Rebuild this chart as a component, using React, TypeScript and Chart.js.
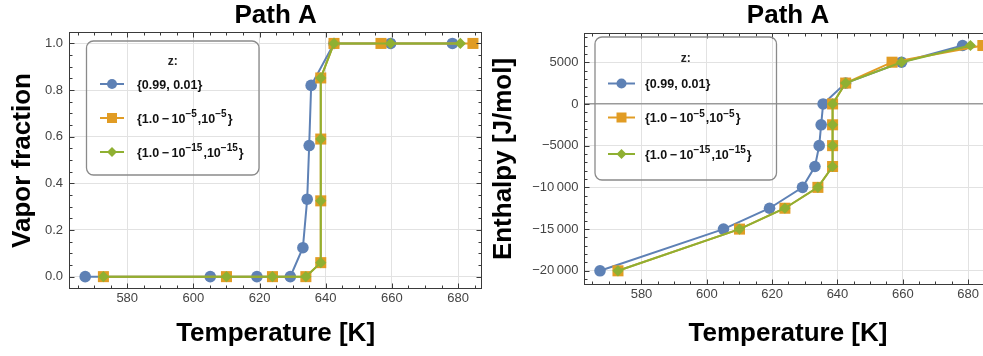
import React, { useEffect, useRef } from 'react';
import { Chart, registerables } from 'chart.js';
Chart.register(...registerables);

const FONT = '"Liberation Sans", Arial, Helvetica, sans-serif';

// ---- tick labels ----
const tempTicks = [580, 600, 620, 640, 660, 680];
const vaporTicks = [0, 0.2, 0.4, 0.6, 0.8, 1.0];
const enthalpyTicks = [-20000, -15000, -10000, -5000, 0, 5000];

// ---- series: z = {0.99, 0.01} ----
const tempA = [567.3, 605.1, 619.2, 629.3, 633.1, 634.4, 635.0, 635.6, 642.5, 659.6, 678.3];
const vaporA = [0, 0, 0, 0, 0.124, 0.332, 0.562, 0.82, 1, 1, 1];
const enthalpyA = [-20000, -15000, -12500, -10000, -7500, -5000, -2500, 0, 2500, 5000, 7000];

// ---- series: z = {1.0-1e-5, 1e-5} ----
const tempB = [572.8, 610.0, 623.9, 634.0, 638.5, 638.5, 638.5, 638.5, 642.5, 656.7, 684.5];
const vaporB = [0, 0, 0, 0, 0.06, 0.325, 0.59, 0.852, 1, 1, 1];
const enthalpyB = [-20000, -15000, -12500, -10000, -7500, -5000, -2500, 0, 2500, 5000, 7000];

// ---- series: z = {1.0-1e-15, 1e-15} ----
const tempC = [572.8, 610.0, 623.9, 634.0, 638.5, 638.5, 638.5, 638.5, 642.5, 659.6, 680.7];
const vaporC = [0, 0, 0, 0, 0.06, 0.325, 0.59, 0.852, 1, 1, 1];
const enthalpyC = [-20000, -15000, -12500, -10000, -7500, -5000, -2500, 0, 2500, 5000, 7000];

const seriesColors = ['#5E81B5', '#E19C24', '#8FB032'];
const seriesMarkers = ['circle', 'rect', 'rectRot'];
const legendTitle = 'z:';
const legendLabels = [
  [{ t: '{0.99, 0.01}' }],
  [{ t: '{1.0\u2009\u2212\u200910' }, { t: '\u22125', sup: true }, { t: ',10' }, { t: '\u22125', sup: true }, { t: '}' }],
  [{ t: '{1.0\u2009\u2212\u200910' }, { t: '\u221215', sup: true }, { t: ',10' }, { t: '\u221215', sup: true }, { t: '}' }],
];

function fmtEnthalpy(v: number): string {
  const a = Math.abs(v);
  let s = String(a);
  if (a >= 10000) s = s.slice(0, s.length - 3) + '\u2009' + s.slice(s.length - 3);
  return (v < 0 ? '\u2212' : '') + s;
}

function drawMarker(ctx: CanvasRenderingContext2D, kind: string, x: number, y: number, r: number, color: string) {
  ctx.fillStyle = color;
  ctx.beginPath();
  if (kind === 'circle') {
    ctx.arc(x, y, r, 0, Math.PI * 2);
  } else if (kind === 'rect') {
    ctx.rect(x - r, y - r, 2 * r, 2 * r);
  } else {
    ctx.moveTo(x, y - r);
    ctx.lineTo(x + r, y);
    ctx.lineTo(x, y + r);
    ctx.lineTo(x - r, y);
    ctx.closePath();
  }
  ctx.fill();
}

const decoPlugin = {
  id: 'deco',
  afterDatasetsDraw(chart: any, _args: any, o: any) {
    const { ctx, chartArea: a, scales } = chart;
    const xs = scales.x;
    const ys = scales.y;
    ctx.save();
    // frame
    const L = Math.round(a.left) + 0.5;
    const R = Math.round(a.right) - 0.5;
    const T = Math.round(a.top) + 0.5;
    const B = Math.round(a.bottom) - 0.5;
    ctx.strokeStyle = '#3a3a3a';
    ctx.lineWidth = 1;
    ctx.strokeRect(L, T, R - L, B - T);
    // ticks
    const tick = (x1: number, y1: number, x2: number, y2: number) => {
      ctx.beginPath();
      ctx.moveTo(x1, y1);
      ctx.lineTo(x2, y2);
      ctx.stroke();
    };
    const vals = (min: number, max: number, step: number) => {
      const out: number[] = [];
      for (let v = Math.ceil(min / step - 1e-9) * step; v <= max + 1e-9; v += step) out.push(+v.toFixed(6));
      return out;
    };
    const isMajor = (v: number, majors: number[]) => majors.some((m) => Math.abs(m - v) < 1e-6);
    for (const v of vals(xs.min, xs.max, o.xMinor)) {
      const len = isMajor(v, o.xMajor) ? 5 : 3;
      const px = Math.round(xs.getPixelForValue(v)) + 0.5;
      tick(px, B, px, B - len);
      tick(px, T, px, T + len);
    }
    for (const v of vals(ys.min, ys.max, o.yMinor)) {
      const len = isMajor(v, o.yMajor) ? 5 : 3;
      const py = Math.round(ys.getPixelForValue(v)) + 0.5;
      tick(L, py, L + len, py);
      tick(R, py, R - len, py);
    }
    // titles
    ctx.fillStyle = '#000';
    ctx.font = `bold 26px ${FONT}`;
    ctx.textAlign = 'center';
    ctx.textBaseline = 'alphabetic';
    const cx = (a.left + a.right) / 2;
    ctx.fillText(o.title, cx, 23);
    ctx.fillText(o.xTitle, cx, 341);
    ctx.save();
    ctx.translate(o.yTitleX, (a.top + a.bottom) / 2);
    ctx.rotate(-Math.PI / 2);
    ctx.fillText(o.yTitle, 0, 0);
    ctx.restore();
    // legend
    const lg = o.legend;
    ctx.strokeStyle = '#8a8a8a';
    ctx.lineWidth = 1.3;
    ctx.beginPath();
    (ctx as any).roundRect(lg.x1, lg.y1, lg.x2 - lg.x1, lg.y2 - lg.y1, 7);
    ctx.stroke();
    ctx.fillStyle = '#222';
    ctx.font = `bold 12px ${FONT}`;
    ctx.textAlign = 'center';
    ctx.textBaseline = 'middle';
    ctx.fillText(legendTitle, (lg.x1 + lg.x2) / 2, lg.titleY);
    legendLabels.forEach((parts, i) => {
      const y = lg.rows[i];
      ctx.strokeStyle = seriesColors[i];
      ctx.lineWidth = 2;
      tick(lg.lx1, y, lg.lx2, y);
      drawMarker(ctx, seriesMarkers[i], (lg.lx1 + lg.lx2) / 2, y, 5, seriesColors[i]);
      let x = lg.tx;
      ctx.textAlign = 'left';
      ctx.textBaseline = 'alphabetic';
      ctx.fillStyle = '#111';
      for (const p of parts as any[]) {
        ctx.font = p.sup ? `bold 10px ${FONT}` : `bold 12.5px ${FONT}`;
        ctx.fillText(p.t, x, p.sup ? y - 1 : y + 4.5);
        x += ctx.measureText(p.t).width + (p.sup ? 1 : 0);
      }
    });
    ctx.restore();
  },
};

function makeDatasets(ys: number[][]) {
  const temps = [tempA, tempB, tempC];
  const radii = [5.8, 7.8, 5.6];
  return [0, 1, 2].map((i) => ({
    label: 'series' + i,
    data: temps[i].map((t, k) => ({ x: t, y: ys[i][k] })),
    borderColor: seriesColors[i],
    backgroundColor: seriesColors[i],
    pointBackgroundColor: seriesColors[i],
    pointBorderColor: seriesColors[i],
    pointBorderWidth: 0,
    borderWidth: 2,
    pointStyle: seriesMarkers[i],
    pointRadius: radii[i],
    showLine: true,
    tension: 0,
    clip: false,
    order: 3 - i,
  }));
}

function makeConfig(kind: 'vapor' | 'enthalpy'): any {
  const isV = kind === 'vapor';
  const tickFont = { family: FONT, size: 13 };
  return {
    type: 'line',
    data: {
      datasets: isV
        ? makeDatasets([vaporA, vaporB, vaporC])
        : makeDatasets([enthalpyA, enthalpyB, enthalpyC]),
    },
    options: {
      animation: false,
      responsive: false,
      devicePixelRatio: 1,
      events: [],
      layout: { padding: isV ? { top: 32, right: 4, left: 0, bottom: 0 } : { top: 33, right: 8, left: 0, bottom: 0 } },
      plugins: {
        legend: { display: false },
        tooltip: { enabled: false },
        title: { display: false },
        deco: {
          title: 'Path A',
          xTitle: 'Temperature [K]',
          yTitle: isV ? 'Vapor fraction' : 'Enthalpy [J/mol]',
          yTitleX: isV ? 30 : 21,
          xMajor: tempTicks,
          xMinor: 5,
          yMajor: isV ? vaporTicks : enthalpyTicks,
          yMinor: isV ? 0.05 : 1000,
          legend: isV
            ? { x1: 86.5, y1: 41, x2: 259, y2: 175, titleY: 62, rows: [84, 118, 152], lx1: 100, lx2: 124, tx: 137 }
            : { x1: 105, y1: 37, x2: 286.5, y2: 180, titleY: 59, rows: [83.5, 117.5, 154], lx1: 118, lx2: 145, tx: 155 },
        },
      },
      scales: {
        x: {
          type: 'linear',
          min: 562.4,
          max: 687.3,
          afterBuildTicks: (s: any) => {
            s.ticks = tempTicks.map((v) => ({ value: v }));
          },
          afterFit: (s: any) => {
            s.height = isV ? 67 : 71;
          },
          ticks: { font: tickFont, color: '#444', padding: 2, maxRotation: 0, autoSkip: false, callback: (v: any) => String(v) },
          grid: { color: '#e2e2e2', lineWidth: 1, drawTicks: false },
          border: { display: false },
        },
        y: {
          type: 'linear',
          min: isV ? -0.053 : -21700,
          max: isV ? 1.049 : 8500,
          afterBuildTicks: (s: any) => {
            s.ticks = (isV ? vaporTicks : enthalpyTicks).map((v) => ({ value: v }));
          },
          afterFit: (s: any) => {
            s.width = isV ? 69 : 94;
          },
          ticks: {
            font: tickFont,
            color: '#444',
            padding: isV ? 6 : 5.5,
            autoSkip: false,
            callback: (v: any) => (isV ? Number(v).toFixed(1) : fmtEnthalpy(Number(v))),
          },
          grid: {
            color: (c: any) => (!isV && c.tick && c.tick.value === 0 ? '#9a9a9a' : '#e2e2e2'),
            lineWidth: (c: any) => (!isV && c.tick && c.tick.value === 0 ? 1.4 : 1),
            drawTicks: false,
          },
          border: { display: false },
        },
      },
    },
    plugins: [decoPlugin],
  };
}

function Panel({ kind, left, width }: { kind: 'vapor' | 'enthalpy'; left: number; width: number }) {
  const ref = useRef<HTMLCanvasElement | null>(null);
  useEffect(() => {
    if (!ref.current) return;
    const chart = new Chart(ref.current, makeConfig(kind));
    return () => chart.destroy();
  }, [kind]);
  return (
    <canvas
      ref={ref}
      width={width}
      height={356}
      style={{ position: 'absolute', left, top: 0, width, height: 356 }}
    />
  );
}

export default function App() {
  return (
    <div
      style={{
        position: 'absolute',
        left: 0,
        top: 0,
        width: 983,
        height: 356,
        overflow: 'hidden',
        background: '#fff',
      }}
    >
      <Panel kind="vapor" left={0} width={490} />
      <Panel kind="enthalpy" left={490} width={510} />
    </div>
  );
}
